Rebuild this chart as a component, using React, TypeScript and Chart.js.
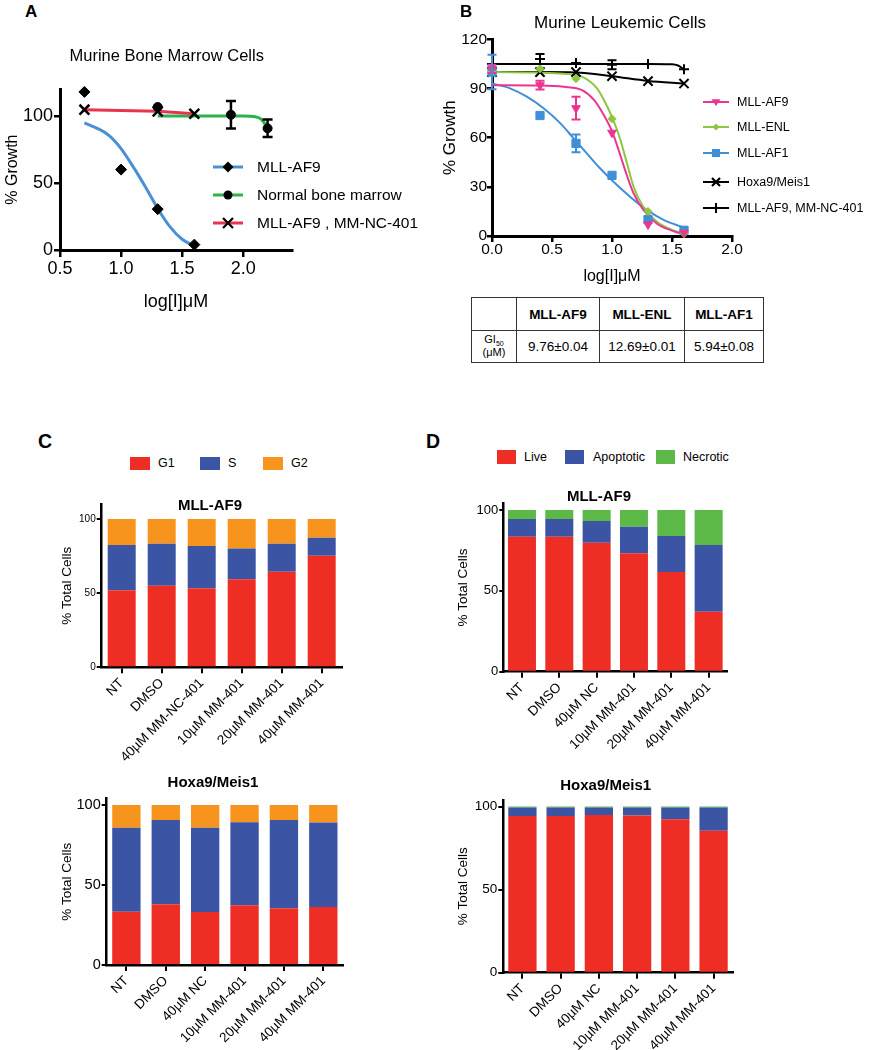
import React, { useEffect, useRef } from 'react';
import { Chart, registerables } from 'chart.js';

Chart.register(...registerables);

const FONT = '"Liberation Sans", Arial, Helvetica, sans-serif';
Chart.defaults.font.family = FONT;
Chart.defaults.color = '#000';

// ---------------- Panel A: Murine Bone Marrow Cells ----------------
const aXTicks = [0.5, 1.0, 1.5, 2.0];
const aYTicks = [0, 50, 100];
const aDoseMllAf9 = [0.7, 1.0, 1.3, 1.6];
const aGrowthMllAf9 = [118, 60, 30.5, 4];
const aFitMllAf9X = [0.7, 0.8, 0.9, 1.0, 1.1, 1.2, 1.3, 1.4, 1.5, 1.6];
const aFitMllAf9Y = [94.8, 91, 85.6, 75.7, 62, 47, 31, 17.4, 8, 3];
const aDoseNormal = [1.3, 1.9, 2.2];
const aGrowthNormal = [106.7, 100.9, 90.8];
const aErrNormal = [0, 10.3, 6.5];
const aFitNormalX = [1.3, 1.7, 2.0, 2.1, 2.15, 2.2];
const aFitNormalY = [100, 100, 100, 99.5, 97.5, 91];
const aDoseNc = [0.7, 1.3, 1.6];
const aGrowthNc = [104.7, 103.5, 101.7];
const aLegend = ['MLL-AF9', 'Normal bone marrow', 'MLL-AF9 , MM-NC-401'];

// ---------------- Panel B: Murine Leukemic Cells ----------------
const bXTicks = [0, 0.5, 1.0, 1.5, 2.0];
const bYTicks = [0, 30, 60, 90, 120];
const bDose = [0, 0.4, 0.7, 1.0, 1.3, 1.6];
const bMllAf9 = [102, 92, 78, 63, 7, 2];
const bMllAf9Err = [2.5, 2.7, 7, 0, 0, 0];
const bMllEnl = [100, 102, 96, 71.5, 15, 1.5];
const bMllAf1 = [100, 73.5, 56.5, 37, 10, 3.5];
const bMllAf1Err = [10.5, 0, 5.4, 0, 0, 0];
const bHoxa = [100, 100, 100, 97.5, 94.5, 93];
const bNc = [105, 108, 105.5, 104.5, 105, 101.7];
const bNcErr = [0, 3, 0, 2.7, 0, 0];
const bFitAf9X = [0, 0.4, 0.6, 0.75, 0.85, 0.93, 1.0, 1.055, 1.11, 1.18, 1.26, 1.375, 1.5, 1.6];
const bFitAf9Y = [92, 91.8, 91, 89, 83, 74, 64, 52.5, 40, 26, 16, 7.5, 3.3, 1];
const bFitEnlX = [0, 0.4, 0.6, 0.74, 0.875, 0.96, 1.01, 1.07, 1.125, 1.18, 1.26, 1.375, 1.5, 1.6];
const bFitEnlY = [100, 99.7, 99, 97.5, 90, 79, 70.8, 58.6, 44.3, 30, 18, 8.7, 3.7, 1.6];
const bFitAf1X = [0, 0.15, 0.29, 0.43, 0.57, 0.68, 0.79, 0.9, 1.01, 1.15, 1.29, 1.43, 1.6];
const bFitAf1Y = [93.1, 90.1, 85, 77.9, 68.7, 59.6, 50.4, 41.3, 33.2, 24, 15.9, 9.8, 5.1];
const bFitHoxaX = [0, 0.4, 0.7, 1.0, 1.3, 1.6];
const bFitHoxaY = [100, 100, 99.8, 97.5, 94.6, 93];
const bFitNcX = [0, 0.7, 1.3, 1.5, 1.55, 1.6];
const bFitNcY = [105, 105, 105, 104.8, 104, 101.7];
const bLegend = ['MLL-AF9', 'MLL-ENL', 'MLL-AF1', 'Hoxa9/Meis1', 'MLL-AF9, MM-NC-401'];
const tableHeaders = ['MLL-AF9', 'MLL-ENL', 'MLL-AF1'];
const tableGi50 = ['9.76±0.04', '12.69±0.01', '5.94±0.08'];

// ---------------- Panel C: cell cycle ----------------
const cLegend = ['G1', 'S', 'G2'];
const cTopLabels = ['NT', 'DMSO', '40µM MM-NC-401', '10µM MM-401', '20µM MM-401', '40µM MM-401'];
const cTopG1 = [52, 55, 53.3, 59.3, 64.5, 75.3];
const cTopS = [30.5, 28.3, 28.5, 20.9, 18.9, 12.1];
const cTopG2 = [17.5, 16.7, 18.2, 19.8, 16.6, 12.6];
const cBotLabels = ['NT', 'DMSO', '40µM NC', '10µM MM-401', '20µM MM-401', '40µM MM-401'];
const cBotG1 = [33.3, 37.9, 33.1, 37.3, 35.4, 36.3];
const cBotS = [52.5, 52.7, 52.7, 51.9, 55.2, 52.7];
const cBotG2 = [14.2, 9.4, 14.2, 10.8, 9.4, 11];
const stackTicks = [0, 50, 100];

// ---------------- Panel D: apoptosis ----------------
const dLegend = ['Live', 'Apoptotic', 'Necrotic'];
const dLabels = ['NT', 'DMSO', '40µM NC', '10µM MM-401', '20µM MM-401', '40µM MM-401'];
const dTopLive = [83.5, 83.5, 79.8, 73.2, 61.6, 37.1];
const dTopApop = [10.9, 10.9, 13.4, 16.5, 22.3, 41.3];
const dTopNecro = [5.6, 5.6, 6.8, 10.3, 16.1, 21.6];
const dBotLive = [94.4, 94.4, 95, 94.6, 92.4, 85.5];
const dBotApop = [5.1, 5.1, 4.5, 4.9, 7.1, 14];
const dBotNecro = [0.6, 0.6, 0.6, 0.6, 0.6, 0.6];

// ---------------- styles ----------------
const RED = '#ee2e24';
const BLUE = '#3b54a4';
const ORANGE = '#f7941e';
const GREEN = '#5cb947';
const A_BLUE = '#4a90d4';
const A_GREEN = '#2bb24c';
const A_RED = '#e8344e';
const B_PINK = '#ea3592';
const B_LIME = '#8dc63f';
const B_BLUE = '#3f8fd6';

const xy = (xs: number[], ys: number[]) => xs.map((x, i) => ({ x, y: ys[i] }));
const fixY = (w: number) => (s: any) => {
  s.width = w; s.paddingTop = 0; s.paddingBottom = 0; s.paddingLeft = 0; s.paddingRight = 0;
};
const fixX = (h: number) => (s: any) => {
  s.height = h; s.paddingTop = 0; s.paddingBottom = 0; s.paddingLeft = 0; s.paddingRight = 0;
};
const setTicks = (vals: number[]) => (s: any) => {
  s.ticks = vals.map((v) => ({ value: v }));
};
const axisStyle = (tl: number, borderW: number, tickW: number) => ({
  grid: {
    display: true, drawOnChartArea: false, drawTicks: true, tickLength: tl,
    tickWidth: tickW, lineWidth: tickW, tickColor: '#000', color: '#000', offset: false,
  },
  border: { display: true, color: '#000', width: borderW },
});

const errorBarPlugin = {
  id: 'errorBars',
  afterDatasetsDraw(chart: any) {
    const ctx = chart.ctx;
    const xs = chart.scales.x;
    const ys = chart.scales.y;
    chart.data.datasets.forEach((ds: any) => {
      if (!ds.errorBars) return;
      ctx.save();
      ctx.strokeStyle = ds.errorColor || '#000';
      ctx.lineWidth = ds.errorWidth || 2;
      const cap = ds.errorCap || 4.5;
      ds.data.forEach((p: any, i: number) => {
        const e = ds.errorBars[i];
        if (!e) return;
        const px = xs.getPixelForValue(p.x);
        const y1 = ys.getPixelForValue(p.y + e);
        const y2 = ys.getPixelForValue(p.y - e);
        ctx.beginPath();
        ctx.moveTo(px, y1); ctx.lineTo(px, y2);
        ctx.moveTo(px - cap, y1); ctx.lineTo(px + cap, y1);
        ctx.moveTo(px - cap, y2); ctx.lineTo(px + cap, y2);
        ctx.stroke();
      });
      ctx.restore();
    });
  },
};

const basePlugins = { legend: { display: false }, tooltip: { enabled: false }, title: { display: false } };

// ---------------- configs ----------------
const aConfig: any = {
  type: 'scatter',
  data: {
    datasets: [
      { label: aLegend[0], data: xy(aDoseMllAf9, aGrowthMllAf9), pointStyle: 'rectRot', pointRadius: 5.5,
        backgroundColor: '#000', borderColor: '#000', showLine: false, clip: false },
      { label: aLegend[1], data: xy(aDoseNormal, aGrowthNormal), pointStyle: 'circle', pointRadius: 4.5,
        backgroundColor: '#000', borderColor: '#000', showLine: false, clip: false,
        errorBars: aErrNormal, errorColor: '#000', errorCap: 5, errorWidth: 2.5 },
      { label: aLegend[2], data: xy(aDoseNc, aGrowthNc), pointStyle: 'crossRot', pointRadius: 7,
        pointBorderWidth: 2.5, pointBorderColor: '#000', borderColor: A_RED, borderWidth: 3,
        showLine: true, clip: false },
      { label: 'MLL-AF9 fit', data: xy(aFitMllAf9X, aFitMllAf9Y), showLine: true, pointRadius: 0,
        borderColor: A_BLUE, borderWidth: 3, cubicInterpolationMode: 'monotone', clip: false },
      { label: 'Normal fit', data: xy(aFitNormalX, aFitNormalY), showLine: true, pointRadius: 0,
        borderColor: A_GREEN, borderWidth: 3, cubicInterpolationMode: 'monotone', clip: false },
    ],
  },
  options: {
    responsive: false, animation: false,
    layout: { padding: { left: 0, top: 49.2, right: 138, bottom: 0 } },
    plugins: basePlugins,
    scales: {
      x: {
        type: 'linear', min: 0.5, max: 2.4,
        afterBuildTicks: setTicks(aXTicks), afterFit: fixX(70),
        ticks: { font: { size: 18, lineHeight: 1 }, padding: 3, color: '#000', maxRotation: 0, autoSkip: false,
          callback: (v: any) => Number(v).toFixed(1) },
        title: { display: true, text: 'log[I]μM', font: { size: 18 }, color: '#000', padding: { top: 0, bottom: 7 } },
        ...axisStyle(7, 3, 2.5),
      },
      y: {
        type: 'linear', min: 0, max: 120,
        afterBuildTicks: setTicks(aYTicks), afterFit: fixY(60),
        ticks: { font: { size: 18 }, padding: 1, color: '#000' },
        title: { display: true, text: '% Growth', font: { size: 16 }, color: '#000', padding: { top: 3, bottom: 0 } },
        ...axisStyle(6, 3, 2.5),
      },
    },
  },
  plugins: [errorBarPlugin],
};

const bConfig: any = {
  type: 'scatter',
  data: {
    datasets: [
      { label: bLegend[0], data: xy(bDose, bMllAf9), pointStyle: 'triangle', pointRotation: 180, pointRadius: 5,
        backgroundColor: B_PINK, borderColor: B_PINK, showLine: false, clip: false,
        errorBars: bMllAf9Err, errorColor: B_PINK, errorCap: 4.5, errorWidth: 2 },
      { label: bLegend[1], data: xy(bDose, bMllEnl), pointStyle: 'rectRot', pointRadius: 4,
        backgroundColor: B_LIME, borderColor: B_LIME, showLine: false, clip: false },
      { label: bLegend[2], data: xy(bDose, bMllAf1), pointStyle: 'rect', pointRadius: 5.8,
        backgroundColor: B_BLUE, borderColor: B_BLUE, showLine: false, clip: false,
        errorBars: bMllAf1Err, errorColor: B_BLUE, errorCap: 4.5, errorWidth: 2 },
      { label: bLegend[3], data: xy(bDose, bHoxa), pointStyle: 'crossRot', pointRadius: 6.5,
        pointBorderWidth: 2, borderColor: '#000', backgroundColor: '#000', showLine: false, clip: false },
      { label: bLegend[4], data: xy(bDose, bNc), pointStyle: 'cross', pointRadius: 5,
        pointBorderWidth: 2, borderColor: '#000', backgroundColor: '#000', showLine: false, clip: false,
        errorBars: bNcErr, errorColor: '#000', errorCap: 4.5, errorWidth: 2 },
      { label: 'AF9 fit', data: xy(bFitAf9X, bFitAf9Y), showLine: true, pointRadius: 0, borderColor: B_PINK,
        borderWidth: 2, cubicInterpolationMode: 'monotone', clip: false },
      { label: 'ENL fit', data: xy(bFitEnlX, bFitEnlY), showLine: true, pointRadius: 0, borderColor: B_LIME,
        borderWidth: 2, cubicInterpolationMode: 'monotone', clip: false },
      { label: 'AF1 fit', data: xy(bFitAf1X, bFitAf1Y), showLine: true, pointRadius: 0, borderColor: B_BLUE,
        borderWidth: 2, cubicInterpolationMode: 'monotone', clip: false },
      { label: 'Hoxa fit', data: xy(bFitHoxaX, bFitHoxaY), showLine: true, pointRadius: 0, borderColor: '#000',
        borderWidth: 2, cubicInterpolationMode: 'monotone', clip: false },
      { label: 'NC fit', data: xy(bFitNcX, bFitNcY), showLine: true, pointRadius: 0, borderColor: '#000',
        borderWidth: 2, cubicInterpolationMode: 'monotone', clip: false },
    ],
  },
  options: {
    responsive: false, animation: false,
    layout: { padding: { left: 0, top: 39.3, right: 140, bottom: 0 } },
    plugins: basePlugins,
    scales: {
      x: {
        type: 'linear', min: 0, max: 2,
        afterBuildTicks: setTicks(bXTicks), afterFit: fixX(56),
        ticks: { font: { size: 15.5, lineHeight: 1 }, padding: 0, color: '#000', maxRotation: 0, autoSkip: false,
          callback: (v: any) => Number(v).toFixed(1) },
        title: { display: true, text: 'log[I]μM', font: { size: 16 }, color: '#000', padding: { top: 0, bottom: 5.4 } },
        ...axisStyle(6, 3, 2.5),
      },
      y: {
        type: 'linear', min: 0, max: 120,
        afterBuildTicks: setTicks(bYTicks), afterFit: fixY(52),
        ticks: { font: { size: 15.5 }, padding: 0, color: '#000' },
        title: { display: true, text: '% Growth', font: { size: 17 }, color: '#000', padding: { top: 0, bottom: 0 } },
        ...axisStyle(5, 3, 2.5),
      },
    },
  },
  plugins: [errorBarPlugin],
};

function stackConfig(p: any): any {
  return {
    type: 'bar',
    data: {
      labels: p.labels,
      datasets: p.series.map((s: any) => ({
        label: s.label, data: s.data, backgroundColor: s.color, borderWidth: 0,
        barPercentage: p.barPct, categoryPercentage: 1,
      })),
    },
    options: {
      responsive: false, animation: false,
      layout: { padding: { left: 0, top: p.padTop, right: p.padRight, bottom: 0 } },
      plugins: basePlugins,
      scales: {
        x: {
          stacked: true, afterFit: fixX(p.hX),
          ticks: { font: { size: 13.5 }, padding: 2, color: '#000', minRotation: 45, maxRotation: 45, autoSkip: false },
          ...axisStyle(6, 2.5, 2),
        },
        y: {
          stacked: true, min: 0, max: p.max,
          afterBuildTicks: setTicks(stackTicks), afterFit: fixY(p.wY),
          ticks: { font: { size: p.yFont }, padding: p.yPad, color: '#000' },
          title: { display: true, text: '% Total Cells', font: { size: p.titleFont }, color: '#000',
            padding: { top: p.titlePad, bottom: 0 } },
          ...axisStyle(p.yTl, 2.5, 2),
        },
      },
    },
  };
}

const cTopConfig = stackConfig({
  labels: cTopLabels, barPct: 0.7, padTop: 9.2, padRight: 88.3, hX: 107.7, wY: 101.7, max: 110,
  yFont: 10, yPad: 1, yTl: 5, titleFont: 13.5, titlePad: 58.9,
  series: [
    { label: cLegend[0], data: cTopG1, color: RED },
    { label: cLegend[1], data: cTopS, color: BLUE },
    { label: cLegend[2], data: cTopG2, color: ORANGE },
  ],
});
const cBotConfig = stackConfig({
  labels: cBotLabels, barPct: 0.72, padTop: 8.6, padRight: 87, hX: 85, wY: 106.7, max: 104,
  yFont: 14.5, yPad: 1, yTl: 5, titleFont: 13.5, titlePad: 58.9,
  series: [
    { label: cLegend[0], data: cBotG1, color: RED },
    { label: cLegend[1], data: cBotS, color: BLUE },
    { label: cLegend[2], data: cBotG2, color: ORANGE },
  ],
});
const dTopConfig = stackConfig({
  labels: dLabels, barPct: 0.75, padTop: 13.5, padRight: 144.7, hX: 103.3, wY: 63.3, max: 104,
  yFont: 13, yPad: 1, yTl: 4, titleFont: 13.5, titlePad: 15.2,
  series: [
    { label: dLegend[0], data: dTopLive, color: RED },
    { label: dLegend[1], data: dTopApop, color: BLUE },
    { label: dLegend[2], data: dTopNecro, color: GREEN },
  ],
});
const dBotConfig = stackConfig({
  labels: dLabels, barPct: 0.74, padTop: 10, padRight: 139.3, hX: 77.3, wY: 63.3, max: 104,
  yFont: 13.5, yPad: 1, yTl: 5, titleFont: 13.5, titlePad: 15.2,
  series: [
    { label: dLegend[0], data: dBotLive, color: RED },
    { label: dLegend[1], data: dBotApop, color: BLUE },
    { label: dLegend[2], data: dBotNecro, color: GREEN },
  ],
});

// ---------------- components ----------------
function ChartBox({ left, top, width, height, config }: any) {
  const ref = useRef<HTMLCanvasElement>(null);
  useEffect(() => {
    const chart = new Chart(ref.current as HTMLCanvasElement, config);
    return () => chart.destroy();
  }, []);
  return (
    <canvas ref={ref} width={width} height={height}
      style={{ position: 'absolute', left, top, width, height }} />
  );
}

function Text({ x, y, size, bold, children, anchor = 'center' }: any) {
  const tx = anchor === 'center' ? '-50%' : '0';
  return (
    <div style={{
      position: 'absolute', left: x, top: y, transform: `translate(${tx},-50%)`, whiteSpace: 'nowrap',
      fontFamily: FONT, fontSize: size, fontWeight: bold ? 'bold' : 'normal', lineHeight: 1, color: '#000',
    }}>{children}</div>
  );
}

function Marker({ shape, x, y, r, color }: any) {
  switch (shape) {
    case 'diamond':
      return <polygon points={`${x},${y - r} ${x + r},${y} ${x},${y + r} ${x - r},${y}`} fill={color} />;
    case 'circle':
      return <circle cx={x} cy={y} r={r} fill={color} />;
    case 'x':
      return <path d={`M${x - r} ${y - r}L${x + r} ${y + r}M${x - r} ${y + r}L${x + r} ${y - r}`} stroke={color} strokeWidth={2.2} />;
    case 'plus':
      return <path d={`M${x - r} ${y}L${x + r} ${y}M${x} ${y - r}L${x} ${y + r}`} stroke={color} strokeWidth={2} />;
    case 'tri':
      return <polygon points={`${x - r},${y - r * 0.6} ${x + r},${y - r * 0.6} ${x},${y + r * 0.9}`} fill={color} />;
    case 'square':
      return <rect x={x - r} y={y - r} width={2 * r} height={2 * r} fill={color} />;
    default:
      return null;
  }
}

function LineLegend({ items, lineX1, lineX2, textX, size, lineW }: any) {
  return (
    <>
      {items.map((it: any, i: number) => (
        <React.Fragment key={i}>
          <svg style={{ position: 'absolute', left: lineX1 - 6, top: it.y - 10, overflow: 'visible' }}
            width={lineX2 - lineX1 + 12} height={20}>
            <line x1={6} y1={10} x2={lineX2 - lineX1 + 6} y2={10} stroke={it.color} strokeWidth={lineW} />
            <Marker shape={it.shape} x={(lineX2 - lineX1) / 2 + 6} y={10} r={it.r} color={it.mcolor} />
          </svg>
          <Text x={textX} y={it.y} size={size} anchor="left">{it.label}</Text>
        </React.Fragment>
      ))}
    </>
  );
}

function BoxLegend({ items, y, size, w, h }: any) {
  return (
    <>
      {items.map((it: any, i: number) => (
        <React.Fragment key={i}>
          <div style={{ position: 'absolute', left: it.x, top: y - h / 2, width: w, height: h, background: it.color }} />
          <Text x={it.tx} y={y} size={size} anchor="left">{it.label}</Text>
        </React.Fragment>
      ))}
    </>
  );
}

export default function App() {
  const cell: any = { border: '1.5px solid #333', textAlign: 'center', padding: 0, fontFamily: FONT, fontSize: 13.5 };
  return (
    <div style={{ position: 'absolute', left: 0, top: 0, width: 872, height: 1050, background: '#fff', overflow: 'hidden' }}>
      {/* Panel A */}
      <ChartBox left={0} top={40} width={430} height={280} config={aConfig} />
      <div style={{ position: 'absolute', left: 25, top: 2.8, fontFamily: FONT, fontSize: 17, fontWeight: 'bold', lineHeight: 1 }}>A</div>
      <Text x={166.7} y={55} size={16.5}>Murine Bone Marrow Cells</Text>
      <LineLegend lineX1={213} lineX2={243} textX={257} size={15.5} lineW={3} items={[
        { y: 166.7, label: aLegend[0], color: A_BLUE, shape: 'diamond', r: 5.5, mcolor: '#000' },
        { y: 195, label: aLegend[1], color: A_GREEN, shape: 'circle', r: 4.5, mcolor: '#000' },
        { y: 223.3, label: aLegend[2], color: A_RED, shape: 'x', r: 5, mcolor: '#000' },
      ]} />

      {/* Panel B */}
      <ChartBox left={440} top={0} width={432} height={292} config={bConfig} />
      <div style={{ position: 'absolute', left: 460, top: 2.8, fontFamily: FONT, fontSize: 17, fontWeight: 'bold', lineHeight: 1 }}>B</div>
      <Text x={620} y={22} size={17}>Murine Leukemic Cells</Text>
      <LineLegend lineX1={703} lineX2={729} textX={737} size={12.5} lineW={2} items={[
        { y: 101.7, label: bLegend[0], color: B_PINK, shape: 'tri', r: 4.5, mcolor: B_PINK },
        { y: 126.7, label: bLegend[1], color: B_LIME, shape: 'diamond', r: 3.5, mcolor: B_LIME },
        { y: 153.3, label: bLegend[2], color: B_BLUE, shape: 'square', r: 4, mcolor: B_BLUE },
        { y: 181.7, label: bLegend[3], color: '#000', shape: 'x', r: 4, mcolor: '#000' },
        { y: 208.3, label: bLegend[4], color: '#000', shape: 'plus', r: 5, mcolor: '#000' },
      ]} />
      <table style={{ position: 'absolute', left: 471, top: 297, width: 292, borderCollapse: 'collapse', tableLayout: 'fixed' }}>
        <colgroup>
          <col style={{ width: 45 }} />
          <col style={{ width: 83 }} />
          <col style={{ width: 85 }} />
          <col style={{ width: 79 }} />
        </colgroup>
        <tbody>
          <tr style={{ height: 33 }}>
            <td style={cell}></td>
            {tableHeaders.map((h) => <td key={h} style={{ ...cell, fontWeight: 'bold' }}>{h}</td>)}
          </tr>
          <tr style={{ height: 32 }}>
            <td style={{ ...cell, fontSize: 11, lineHeight: 1.05 }}>GI<span style={{ fontSize: 7, verticalAlign: 'sub' }}>50</span><br />(μM)</td>
            {tableGi50.map((v) => <td key={v} style={cell}>{v}</td>)}
          </tr>
        </tbody>
      </table>

      {/* Panel C */}
      <div style={{ position: 'absolute', left: 38, top: 431.5, fontFamily: FONT, fontSize: 19.5, fontWeight: 'bold', lineHeight: 1 }}>C</div>
      <BoxLegend y={463} size={12.5} w={20} h={13} items={[
        { x: 130, tx: 158, label: cLegend[0], color: RED },
        { x: 200, tx: 228, label: cLegend[1], color: BLUE },
        { x: 263, tx: 291, label: cLegend[2], color: ORANGE },
      ]} />
      <ChartBox left={0} top={495} width={430} height={280} config={cTopConfig} />
      <Text x={210} y={504} size={15} bold>MLL-AF9</Text>
      <ChartBox left={0} top={790} width={430} height={260} config={cBotConfig} />
      <Text x={213} y={781} size={15} bold>Hoxa9/Meis1</Text>

      {/* Panel D */}
      <div style={{ position: 'absolute', left: 426, top: 431.5, fontFamily: FONT, fontSize: 19.5, fontWeight: 'bold', lineHeight: 1 }}>D</div>
      <BoxLegend y={457} size={12.5} w={19} h={14} items={[
        { x: 497, tx: 524, label: dLegend[0], color: RED },
        { x: 565, tx: 593, label: dLegend[1], color: BLUE },
        { x: 656, tx: 683, label: dLegend[2], color: GREEN },
      ]} />
      <ChartBox left={440} top={490} width={432} height={285} config={dTopConfig} />
      <Text x={599} y={495} size={15} bold>MLL-AF9</Text>
      <ChartBox left={440} top={790} width={432} height={260} config={dBotConfig} />
      <Text x={605.7} y={784} size={15} bold>Hoxa9/Meis1</Text>
    </div>
  );
}
